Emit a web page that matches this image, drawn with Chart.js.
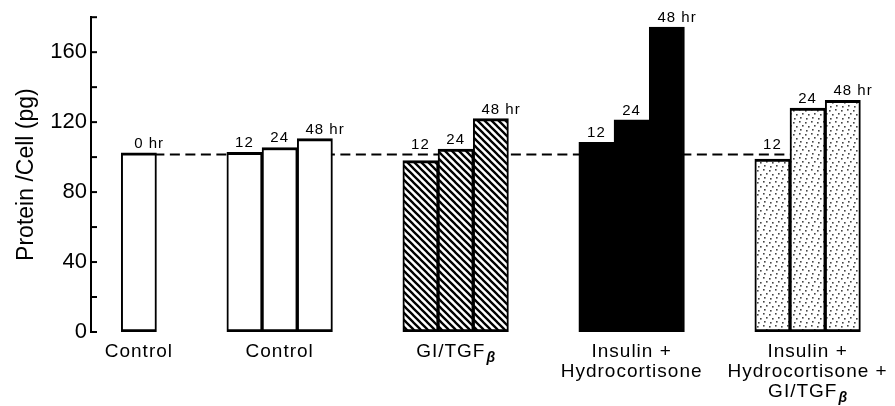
<!DOCTYPE html>
<html>
<head>
<meta charset="utf-8">
<script src="https://cdn.jsdelivr.net/npm/chart.js@4.4.1/dist/chart.umd.min.js"></script>
<style>
  html, body { margin: 0; padding: 0; background: #fff; }
  #wrap { width: 895px; height: 406px; }
</style>
</head>
<body>
<div id="wrap"><canvas id="proteinChart"></canvas></div>
<script>
// group names under the bars ('_' starts a subscript)
const groupNames = [
  ['Control'],
  ['Control'],
  ['GI/TGF_β'],
  ['Insulin +', 'Hydrocortisone'],
  ['Insulin +', 'Hydrocortisone +', 'GI/TGF_β']
];
const startLabels = ['0 hr'];
const timeLabels = ['12', '24', '48 hr'];

// protein per cell (pg)
const control0 = [102.5];
const control = [102.7, 105.5, 110.6];
const giTgf = [98.0, 104.6, 122.0];
const insulinHc = [108.4, 121.3, 174.3];
const insulinHcGi = [98.9, 128.0, 132.5];

const refLevel = 101.5; // dashed reference line
const yTickLabels = [0, 40, 80, 120, 160];

const FONT = "'Liberation Sans', Arial, sans-serif";

// fill patterns
function makeHatch() {
  const c = document.createElement('canvas');
  c.width = 7; c.height = 7;
  const x = c.getContext('2d');
  x.fillStyle = '#fff';
  x.fillRect(0, 0, 7, 7);
  x.strokeStyle = '#000';
  x.lineWidth = 2.3;
  x.beginPath();
  x.moveTo(-1, -1); x.lineTo(8, 8);
  x.moveTo(-1, 6); x.lineTo(1, 8);
  x.moveTo(6, -1); x.lineTo(8, 1);
  x.stroke();
  return x.createPattern(c, 'repeat');
}
function makeDots() {
  const c = document.createElement('canvas');
  c.width = 12; c.height = 12;
  const x = c.getContext('2d');
  x.fillStyle = '#fff';
  x.fillRect(0, 0, 12, 12);
  x.fillStyle = '#444';
  [[1, 2], [7, 1], [4, 6], [10, 5], [2, 10], [8, 9]].forEach(function (p) {
    x.fillRect(p[0], p[1], 1.6, 1.6);
  });
  return x.createPattern(c, 'repeat');
}

const seriesList = [control0, control, giTgf, insulinHc, insulinHcGi];
const labelList = [startLabels, timeLabels, timeLabels, timeLabels, timeLabels];
const fills = ['#fff', '#fff', makeHatch(), '#000', makeDots()];

// slot index on the x axis: lone bar, then groups of three with gaps
function slot(g, i) { return g === 0 ? 0 : 5 * g - 2 + i; }

const datasets = seriesList.map(function (vals, g) {
  return {
    data: vals.map(function (v, i) { return { x: slot(g, i), y: v }; }),
    backgroundColor: fills[g],
    borderColor: '#000',
    borderWidth: { top: 3, bottom: 3, left: 2, right: 2 },
    borderSkipped: false,
    barLabels: labelList[g],
    groupName: groupNames[g]
  };
});

function drawSubText(ctx, text, x, y) {
  // text with optional '_' subscript, centred at x
  const parts = text.split('_');
  ctx.font = '19px ' + FONT;
  const mainW = ctx.measureText(parts[0]).width;
  let subW = 0;
  if (parts[1]) {
    ctx.font = 'italic bold 14px ' + FONT;
    subW = ctx.measureText(parts[1]).width;
  }
  const start = x - (mainW + subW) / 2;
  ctx.textAlign = 'left';
  ctx.font = '19px ' + FONT;
  ctx.fillText(parts[0], start, y);
  if (parts[1]) {
    ctx.font = 'italic bold 14px ' + FONT;
    ctx.fillText(parts[1], start + mainW + 1, y + 5);
  }
}

const extrasPlugin = {
  id: 'extras',
  beforeDatasetsDraw: function (chart) {
    const ctx = chart.ctx, xs = chart.scales.x, ys = chart.scales.y;
    const yRef = ys.getPixelForValue(refLevel);
    ctx.save();
    ctx.strokeStyle = '#000';
    ctx.lineWidth = 1.8;
    ctx.setLineDash([10, 5.5]);
    ctx.beginPath();
    ctx.moveTo(xs.getPixelForValue(slot(0, 0)), yRef);
    ctx.lineTo(xs.getPixelForValue(slot(4, 1)), yRef);
    ctx.stroke();
    ctx.restore();
  },
  afterDatasetsDraw: function (chart) {
    const ctx = chart.ctx, ys = chart.scales.y, area = chart.chartArea;
    const yRef = ys.getPixelForValue(refLevel);
    ctx.save();
    ctx.fillStyle = '#000';
    ctx.textBaseline = 'alphabetic';

    // inward tick marks on the y axis
    ctx.strokeStyle = '#000';
    ctx.lineWidth = 2;
    ys.ticks.forEach(function (t) {
      const y = ys.getPixelForValue(t.value);
      ctx.beginPath();
      ctx.moveTo(area.left, y);
      ctx.lineTo(area.left + 6, y);
      ctx.stroke();
    });

    chart.data.datasets.forEach(function (ds, g) {
      const meta = chart.getDatasetMeta(g);
      // time labels over each bar, number centred on the bar
      ctx.letterSpacing = '1px';
      ctx.font = '15px ' + FONT;
      ctx.textAlign = 'left';
      meta.data.forEach(function (el, i) {
        const txt = ds.barLabels[i];
        const num = txt.split(' ')[0];
        const w = ctx.measureText(num).width;
        const y = Math.min(el.y, yRef) - 5;
        ctx.fillText(txt, el.x - w / 2, y);
      });
      // group name under the bars
      const cx = meta.data.reduce(function (s, el) { return s + el.x; }, 0) / meta.data.length;
      ds.groupName.forEach(function (line, k) {
        drawSubText(ctx, line, cx, area.bottom + 25 + k * 20);
      });
    });
    ctx.restore();
  }
};

const ctx = document.getElementById('proteinChart').getContext('2d');
const proteinChart = new Chart(ctx, {
  type: 'bar',
  data: { datasets: datasets },
  options: {
    responsive: true,
    maintainAspectRatio: false,
    animation: false,
    grouped: false,
    categoryPercentage: 1,
    barPercentage: 1,
    layout: { padding: { top: 15, right: 17, bottom: 74, left: 0 } },
    plugins: { legend: { display: false }, tooltip: { enabled: false } },
    scales: {
      x: {
        type: 'linear',
        display: false,
        offset: false,
        min: -1.36,
        max: 21
      },
      y: {
        min: 0,
        max: 180,
        grid: { display: false, drawTicks: false },
        border: { display: true, color: '#000', width: 2 },
        ticks: {
          stepSize: 20,
          autoSkip: false,
          padding: 4,
          color: '#000',
          font: { family: FONT, size: 22 },
          callback: function (v) { return yTickLabels.includes(v) ? v : ''; }
        },
        title: {
          display: true,
          text: 'Protein /Cell (pg)',
          color: '#000',
          font: { family: FONT, size: 23 },
          padding: { top: 13, bottom: 0 }
        },
        afterFit: function (scale) { scale.width = 91; }
      }
    }
  },
  plugins: [extrasPlugin]
});
</script>
</body>
</html>
